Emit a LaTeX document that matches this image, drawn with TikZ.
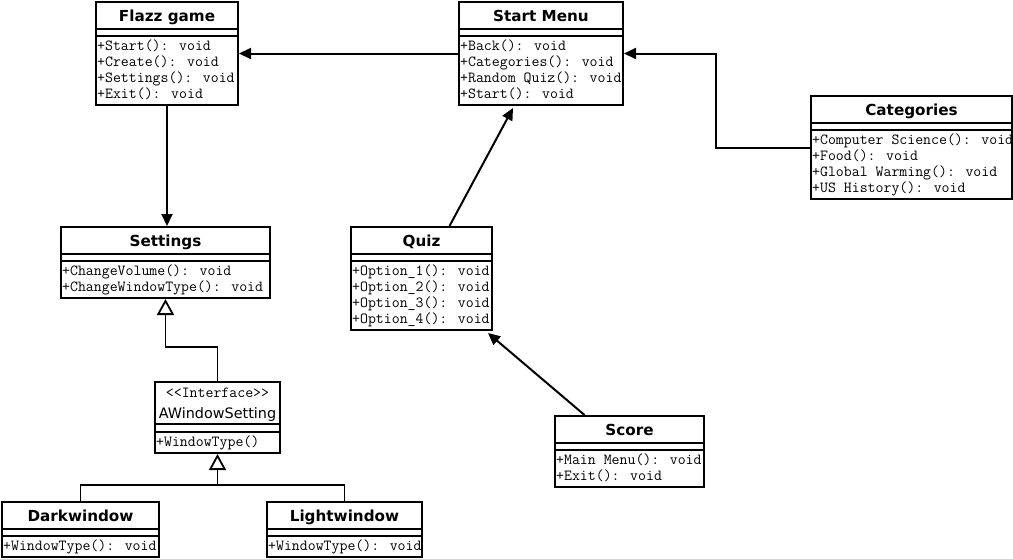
\documentclass[tikz,border=0pt]{standalone}
\usepackage{fontspec}
\usetikzlibrary{arrows.meta,calc}
\newfontfamily\titlefont{DejaVu Sans}

\tikzset{
  classbox/.style={draw, line width=2pt, fill=white, inner sep=0pt, anchor=north west},
  divider/.style={line width=2pt},
  classtitle/.style={font=\fontsize{15.2}{17}\selectfont\titlefont\bfseries, anchor=base, inner sep=0pt},
  plaintitle/.style={font=\fontsize{14.4}{17}\selectfont\titlefont, anchor=base, inner sep=0pt},
  opstext/.style={font=\fontsize{15.4}{16}\selectfont\ttfamily, anchor=base west, inner sep=0pt},
  assoc/.style={line width=2pt, -{Triangle[length=12pt,width=11pt]}},
  generalize/.style={line width=1.8pt, -{Triangle[open,length=16pt,width=17pt]}},
  plainline/.style={line width=1.8pt},
}

% \umlclass{name}{x}{y}{width}{rows}{title}{operations}
\newcommand{\umlclass}[7]{%
  \pgfmathsetmacro\boxh{49+(#5-1)*16+6}
  \node[classbox, minimum width=#4pt, minimum height=\boxh pt] (#1) at (#2,#3) {};
  \node[classtitle] (#1-title) at ($(#1.north)+(0,20.5)$) {#6};
  \draw[divider] ($(#1.north west)+(0,28)$) -- ($(#1.north east)+(0,28)$);
  \draw[divider] ($(#1.north west)+(0,35)$) -- ($(#1.north east)+(0,35)$);
  \foreach \op [count=\i from 0] in {#7} {
    \node[opstext] (#1-op\i) at ($(#1.north west)+(2,49+16*\i)$) {\op};
  }
}

\begin{document}
\begin{tikzpicture}[x=1pt, y=-1pt]
  \fill[white] (0,0) rectangle (1013,558);
  \useasboundingbox (0,0) rectangle (1013,558);

  \umlclass{flazz}{95}{1}{142}{4}{Flazz game}
    {+Start(): void, +Create(): void, +Settings(): void, +Exit(): void}
  \umlclass{startmenu}{458}{1}{164}{4}{Start Menu}
    {+Back(): void, +Categories(): void, +Random Quiz(): void, +Start(): void}
  \umlclass{categories}{810}{95}{201}{4}{Categories}
    {+Computer Science(): void, +Food(): void, +Global Warming(): void, +US History(): void}
  \umlclass{settings}{60}{226}{209}{2}{Settings}
    {+ChangeVolume(): void, +ChangeWindowType(): void}
  \umlclass{quiz}{350}{226}{141}{4}{Quiz}
    {+Option\_1(): void, +Option\_2(): void, +Option\_3(): void, +Option\_4(): void}
  \umlclass{score}{554}{415}{149}{2}{Score}
    {+Main Menu(): void, +Exit(): void}
  \umlclass{dark}{1}{501}{157}{1}{Darkwindow}
    {+WindowType(): void}
  \umlclass{light}{266}{501}{155}{1}{Lightwindow}
    {+WindowType(): void}

  % interface with a two-line header
  \node[classbox, minimum width=125pt, minimum height=71pt] (iface) at (154,381) {};
  \node[opstext, anchor=base] (iface-stereo) at ($(iface.north)+(0,16)$) {<\kern0pt<Interface>\kern0pt>};
  \node[plaintitle] (iface-title) at ($(iface.north)+(0,37)$) {AWindowSetting};
  \draw[divider] ($(iface.north west)+(0,43)$) -- ($(iface.north east)+(0,43)$);
  \draw[divider] ($(iface.north west)+(0,50.5)$) -- ($(iface.north east)+(0,50.5)$);
  \node[opstext] (iface-op0) at ($(iface.north west)+(2,65)$) {+WindowType()};

  % associations
  \draw[assoc] (startmenu.west) -- (flazz.east);
  \draw[assoc] (categories.west) -- ++(-94,0) |- (startmenu.east);
  \draw[assoc] ($(quiz.north)+(28,0)$) -- ($(startmenu.south)+(-28,2)$);
  \draw[assoc] ($(score.north)+(-45,0)$) -- ($(quiz.south east)+(-5,2)$);
  \draw[assoc] (flazz.south) -- (flazz.south |- settings.north);

  % generalizations
  \draw[generalize] (iface.north) -- ++(0,-34) -| (settings.south);
  \coordinate (bus) at ($(dark.north)+(0,-16)$);
  \draw[plainline] (dark.north) -- (bus) -| (light.north);
  \draw[generalize] (bus -| iface.south) -- (iface.south);
\end{tikzpicture}
\end{document}
